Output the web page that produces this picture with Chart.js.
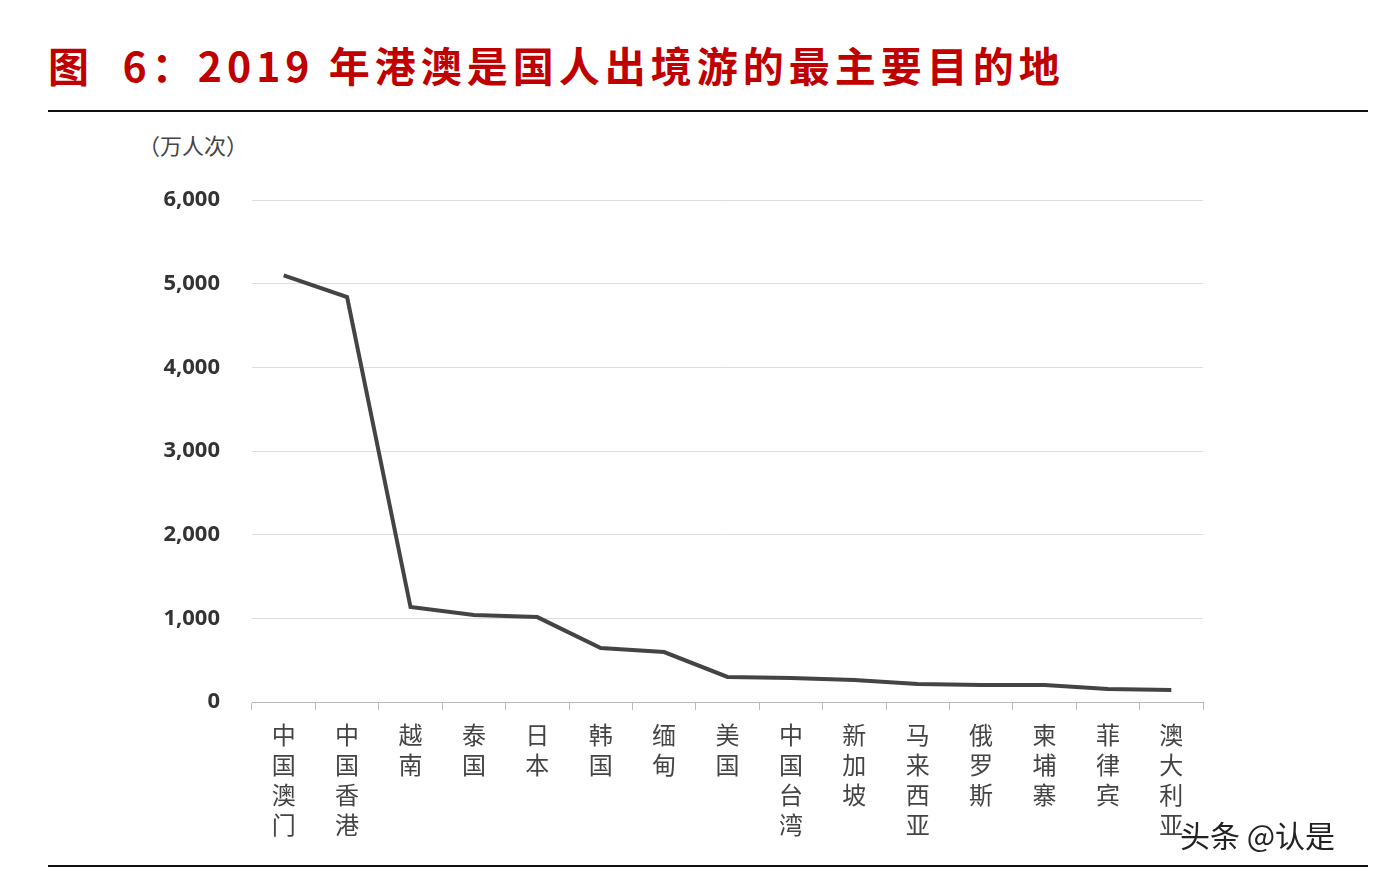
<!DOCTYPE html>
<html><head><meta charset="utf-8">
<script src="https://cdn.jsdelivr.net/npm/chart.js@4"></script>
<style>
body{margin:0;background:#fff;font-family:"Noto Sans CJK SC",sans-serif;}
#wrap{position:absolute;left:0;top:0;width:1388px;height:876px;}
.t{position:absolute;left:48px;top:34px;font-size:41px;font-weight:bold;color:#c00000;white-space:nowrap;letter-spacing:5px;}
.l{position:absolute;left:48px;width:1320px;height:2px;background:#111;}
.u{position:absolute;left:138px;top:128px;font-size:22px;color:#444;}
.w{position:absolute;left:1180px;top:812px;font-size:30px;color:#222;}
</style></head><body>
<div class="t">图&nbsp; 6：2019 年港澳是国人出境游的最主要目的地</div>
<div class="l" style="top:110px"></div>
<div class="l" style="top:865px"></div>
<div class="u">（万人次）</div>
<div id="wrap"><canvas id="c" width="1388" height="876"></canvas></div>
<div class="w">头条 @认是</div>
<script>
const categories=["中国澳门","中国香港","越南","泰国","日本","韩国","缅甸","美国","中国台湾","新加坡","马来西亚","俄罗斯","柬埔寨","菲律宾","澳大利亚"];
const values=[5100,4840,1135,1040,1015,645,597,299,287,263,215,203,203,155,143];
const yTicks=[0,1000,2000,3000,4000,5000,6000];
new Chart(document.getElementById('c'),{
type:'line',
data:{labels:categories.map(s=>s.split('')),datasets:[{data:values,borderColor:'#444',borderWidth:4,pointRadius:0,tension:0,fill:false}]},
options:{responsive:false,animation:false,
layout:{padding:{top:200,right:185,left:0,bottom:0}},
plugins:{legend:{display:false},tooltip:{enabled:false}},
scales:{
x:{offset:true,grid:{display:true,drawOnChartArea:false,offset:true,tickLength:8,color:'#bbb'},border:{color:'#bbb'},
ticks:{color:'#444',font:{size:24,family:'Noto Sans CJK SC',lineHeight:1.25},maxRotation:0,autoSkip:false,padding:10},
afterFit:s=>{s.height=174;}},
y:{min:0,max:6000,afterBuildTicks:s=>{s.ticks=yTicks.map(v=>({value:v}));},
grid:{color:'#ddd',drawTicks:false},border:{display:false},
ticks:{color:'#333',font:{size:22,weight:'bold',family:'Noto Sans'},padding:32,callback:v=>v.toLocaleString('en-US')},
afterFit:s=>{s.width=252;}}
}}});
</script></body></html>
